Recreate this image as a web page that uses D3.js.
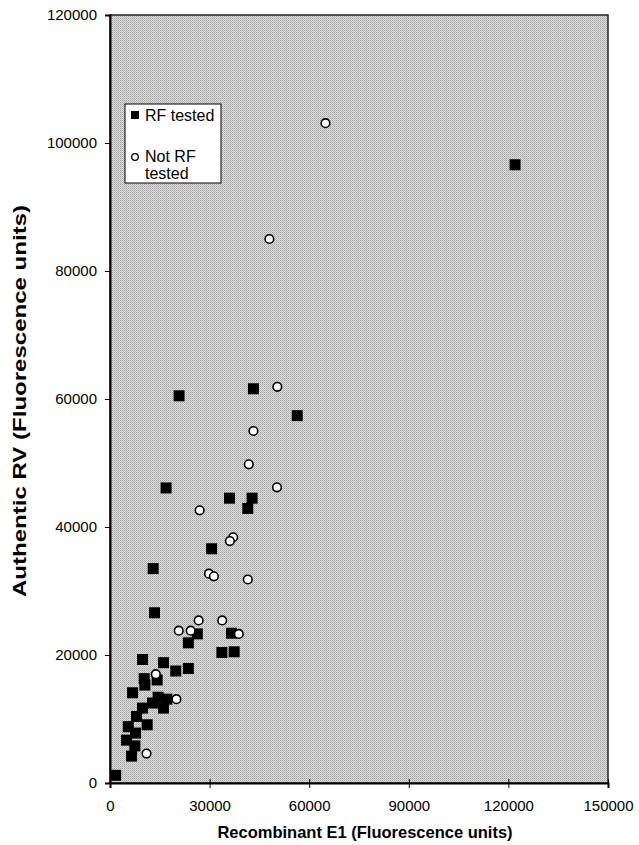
<!DOCTYPE html>
<html><head><meta charset="utf-8">
<script src="https://cdn.jsdelivr.net/npm/d3@7"></script>
<style>body{margin:0;background:#fff;}svg{display:block;font-family:"Liberation Sans",Arial,sans-serif;}</style>
</head><body>
<script>
const rfTested = [
  [16900, 46100],[36000, 44500],[42800, 44500],[41500, 42900],
  [30600, 36600],[13000, 33500],[13400, 26600],[26300, 23300],[36600, 23400],
  [23600, 21900],[33700, 20400],[37400, 20500],[9800, 19300],[16100, 18800],
  [19800, 17500],[23600, 17900],[10300, 16300],[14200, 16100],[10500, 15300],
  [6800, 14100],[14500, 13400],[17100, 13100],[12800, 12500],[16100, 11700],
  [9800, 11700],[8000, 10400],[11200, 9100],[5500, 8800],[7700, 7800],
  [5000, 6700],[7500, 5800],[6500, 4200],[1700, 1200],[43200, 61600],
  [56400, 57400],[20800, 60500],[122000, 96600]
];
const notRfTested = [
  [41800, 49800],[50300, 46200],[27000, 42600],[37100, 38400],[36100, 37800],
  [29800, 32700],[31300, 32300],[41500, 31800],[26700, 25400],[33800, 25400],
  [20700, 23800],[24300, 23800],[38800, 23300],[13800, 17000],[20000, 13100],
  [11000, 4600],[50400, 61900],[43200, 55000],[48000, 85000],[64900, 103100]
];
const xTicks = [0, 30000, 60000, 90000, 120000, 150000];
const yTicks = [0, 20000, 40000, 60000, 80000, 100000, 120000];
const legendLabels = ["RF tested", ["Not RF", "tested"]];

const W = 639, H = 845;
const L = 110, R = 608, T = 15, B = 783;
const svg = d3.select("body").append("svg").attr("width", W).attr("height", H);

const x = d3.scaleLinear().domain([0, 150000]).range([L, R]);
const y = d3.scaleLinear().domain([0, 120000]).range([B, T]);

// dithered gray background
const defs = svg.append("defs");
const pat = defs.append("pattern").attr("id", "dither").attr("width", 2).attr("height", 2).attr("patternUnits", "userSpaceOnUse");
pat.append("rect").attr("width", 2).attr("height", 2).attr("fill", "#dedede");
pat.append("rect").attr("width", 1).attr("height", 1).attr("fill", "#a2a2a2");
pat.append("rect").attr("x", 1).attr("y", 1).attr("width", 1).attr("height", 1).attr("fill", "#bababa");

svg.append("rect").attr("x", L).attr("y", T).attr("width", R - L).attr("height", B - T)
  .attr("fill", "url(#dither)").attr("stroke", "#222").attr("stroke-width", 1.5);

// axes
const xAxis = d3.axisBottom(x).tickValues(xTicks).tickFormat(d3.format("d")).tickSize(5).tickPadding(12);
const gx = svg.append("g").attr("transform", `translate(0,${B})`).call(xAxis);
gx.select(".domain").attr("stroke", "#000").attr("stroke-width", 2);
gx.selectAll(".tick line").attr("stroke", "#000").attr("y1", -4);
gx.selectAll("text").attr("font-size", 15).attr("fill", "#000");

const yAxis = d3.axisLeft(y).tickValues(yTicks).tickFormat(d3.format("d")).tickSize(5).tickPadding(8);
const gy = svg.append("g").attr("transform", `translate(${L},0)`).call(yAxis);
gy.select(".domain").attr("stroke", "#000").attr("stroke-width", 2);
gy.selectAll(".tick line").attr("stroke", "#000");
gy.selectAll("text").attr("font-size", 15).attr("fill", "#000");

// points
const s = 11;
svg.append("g").selectAll("rect").data(rfTested).join("rect")
  .attr("x", d => x(d[0]) - s / 2).attr("y", d => y(d[1]) - s / 2)
  .attr("width", s).attr("height", s).attr("fill", "#000");
svg.append("g").selectAll("circle").data(notRfTested).join("circle")
  .attr("cx", d => x(d[0])).attr("cy", d => y(d[1])).attr("r", 4.3)
  .attr("fill", "#fff").attr("stroke", "#000").attr("stroke-width", 1.6);

// legend
const lg = svg.append("g");
lg.append("rect").attr("x", 125).attr("y", 104).attr("width", 96).attr("height", 79)
  .attr("fill", "#fff").attr("stroke", "#000").attr("stroke-width", 1);
lg.append("rect").attr("x", 131).attr("y", 111).attr("width", 8).attr("height", 8).attr("fill", "#000");
lg.append("text").attr("x", 145).attr("y", 121).attr("font-size", 16).text(legendLabels[0]);
lg.append("circle").attr("cx", 135).attr("cy", 157).attr("r", 3.3).attr("fill", "#fff").attr("stroke", "#000").attr("stroke-width", 1.3);
lg.append("text").attr("x", 145).attr("y", 162).attr("font-size", 16).text(legendLabels[1][0]);
lg.append("text").attr("x", 145).attr("y", 179).attr("font-size", 16).text(legendLabels[1][1]);

// titles
svg.append("text").attr("x", (L + R) / 2 + 6).attr("y", 838).attr("text-anchor", "middle")
  .attr("font-size", 16.5).attr("font-weight", "bold").text("Recombinant E1 (Fluorescence units)");
svg.append("text").attr("transform", `translate(26,${401}) rotate(-90)`).attr("text-anchor", "middle")
  .attr("font-size", 18).attr("font-weight", "bold")
  .attr("textLength", 392).attr("lengthAdjust", "spacingAndGlyphs")
  .text("Authentic RV (Fluorescence units)");
</script>
</body></html>
